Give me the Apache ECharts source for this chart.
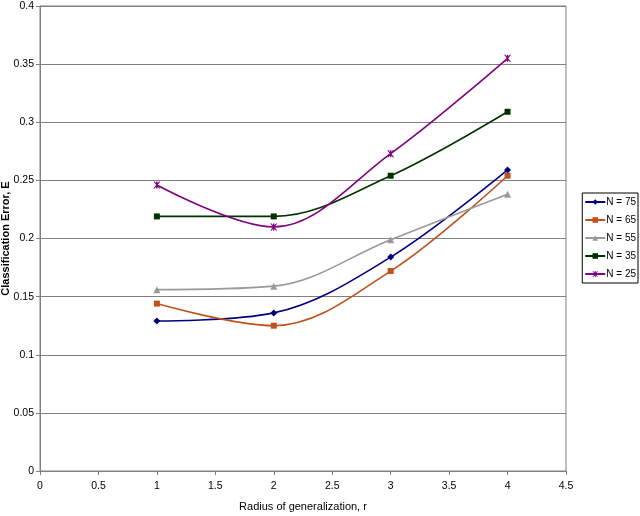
<!DOCTYPE html>
<html>
<head>
<meta charset="utf-8">
<script src="https://cdn.jsdelivr.net/npm/echarts@6/dist/echarts.min.js"></script>
<style>html,body{margin:0;padding:0;background:#fff}#c{width:640px;height:516px}</style>
</head>
<body>
<div id="c"></div>
<script>
var radius = [1, 2, 3, 4];
var seriesNames = ['N = 75', 'N = 65', 'N = 55', 'N = 35', 'N = 25'];
var n75 = [0.129, 0.136, 0.184, 0.259];
var n65 = [0.144, 0.125, 0.172, 0.254];
var n55 = [0.156, 0.159, 0.199, 0.238];
var n35 = [0.219, 0.219, 0.254, 0.309];
var n25 = [0.246, 0.210, 0.273, 0.355];
var xTitle = 'Radius of generalization, r';
var yTitle = 'Classification Error, E';

var colors = ['#000080', '#c0501c', '#999999', '#003300', '#800080'];
var starPath = 'path://M0,0L2,0L10,10L8,10Z M8,0L10,0L2,10L0,10Z M4,0L6,0L6,10L4,10Z';
var symbols = ['diamond', 'rect', 'triangle', 'rect', starPath];
var symbolSizes = [7, 6, 7, 6, 7];
var values = [n75, n65, n55, n35, n25];

function pairs(v) { return radius.map(function (r, i) { return [r, v[i]]; }); }

var font = 'Liberation Sans, Arial, sans-serif';
var series = values.map(function (v, i) {
  return {
    name: seriesNames[i],
    type: 'line',
    data: pairs(v),
    smooth: 0.35,
    symbol: symbols[i],
    symbolSize: symbolSizes[i],
    showAllSymbol: true,
    lineStyle: { color: colors[i], width: 1.6 },
    itemStyle: { color: colors[i], borderWidth: 0 },
    emphasis: { disabled: true },
    animation: false
  };
});

var chart = echarts.init(document.getElementById('c'));
chart.setOption({
  animation: false,
  color: colors,
  grid: { left: 40, right: 74, top: 6, bottom: 45, show: true, borderColor: '#808080', borderWidth: 1,
          containLabel: false, outerBoundsMode: 'none' },
  legend: {
    orient: 'vertical',
    right: 2,
    top: 193,
    padding: [4, 2, 4, 2],
    borderColor: '#000',
    borderWidth: 1,
    itemWidth: 20,
    itemHeight: 7,
    itemGap: 8,
    textStyle: { fontFamily: font, fontSize: 10, color: '#000', padding: [0, 0, 0, -4] },
    data: seriesNames
  },
  xAxis: {
    type: 'value',
    min: 0, max: 4.5, interval: 0.5,
    name: xTitle,
    nameLocation: 'middle',
    nameGap: 30,
    nameMoveOverlap: false,
    nameTextStyle: { fontFamily: font, fontSize: 11, color: '#000' },
    axisLine: { show: true, lineStyle: { color: '#808080', width: 1 } },
    axisTick: { show: true, length: 4, inside: false, lineStyle: { color: '#808080' } },
    axisLabel: { fontFamily: font, fontSize: 10.5, color: '#000', margin: 10 },
    splitLine: { show: false }
  },
  yAxis: {
    type: 'value',
    min: 0, max: 0.4, interval: 0.05,
    name: yTitle,
    nameLocation: 'middle',
    nameGap: 29,
    nameRotate: 90,
    nameMoveOverlap: false,
    nameTextStyle: { fontFamily: font, fontSize: 11, fontWeight: 'bold', color: '#000' },
    axisLine: { show: true, lineStyle: { color: '#808080', width: 1 } },
    axisTick: { show: true, length: 4, inside: false, lineStyle: { color: '#808080' } },
    axisLabel: { fontFamily: font, fontSize: 10.5, color: '#000', margin: 6,
      formatter: function (v) { return String(+v.toFixed(2)); } },
    splitLine: { show: true, lineStyle: { color: '#808080', width: 1 } }
  },
  series: series
});
</script>
</body>
</html>
